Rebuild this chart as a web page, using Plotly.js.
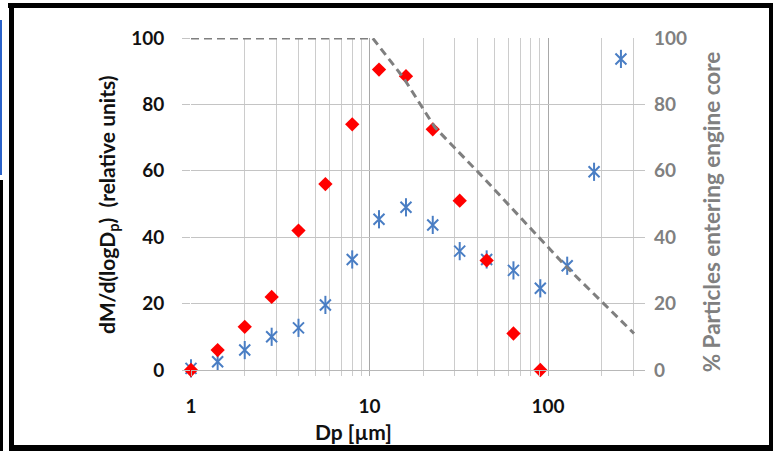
<!DOCTYPE html>
<html>
<head>
<meta charset="utf-8">
<script src="https://cdn.plot.ly/plotly-3.0.1.min.js"></script>
<style>
  html, body { margin:0; padding:0; background:#ffffff; }
  #wrap { position:relative; width:773px; height:451px; overflow:hidden; background:#fff; }
  #chart { position:absolute; left:0; top:0; width:773px; height:451px; }
  .bar { position:absolute; background:#000; }
</style>
</head>
<body>
<div id="wrap">
  <div id="chart"></div>
  <div class="bar" style="left:8px; top:3px; width:765px; height:5px;"></div>
  <div class="bar" style="left:9px; top:3px; width:5px; height:448px;"></div>
  <div class="bar" style="left:9px; top:445px; width:764px; height:6px;"></div>
  <div class="bar" style="left:769px; top:3px; width:4px; height:448px;"></div>
  <div class="bar" style="left:0px; top:180px; width:3px; height:271px;"></div>
  <div class="bar" style="left:0px; top:20px; width:2px; height:155px; background:#2a62c9;"></div>
</div>
<script>
// Particle diameter (µm), half-octave steps
const dpRed  = [1, 1.41, 2, 2.83, 4, 5.66, 8, 11.3, 16, 22.6, 32, 45.3, 64, 90.5];
const massRed = [0, 6, 13, 22, 42, 56, 74, 90.5, 88.5, 72.5, 51, 33, 11, 0];

const dpBlue = [1, 1.41, 2, 2.83, 4, 5.66, 8, 11.3, 16, 22.6, 32, 45.3, 64, 90.5, 128, 181, 256];
const massBlue = [0.5, 2.5, 6, 10, 12.7, 19.6, 33.3, 45.4, 49, 43.7, 35.8, 33.3, 30, 24.6, 31.4, 59.7, 93.7];

const dpCore = [1, 10.4, 15.5, 23.3, 41.6, 127, 303];
const pctCore = [100, 100, 88, 73, 59, 31, 11];

const xTickVals = [1, 10, 100];
const xTickText = ['1', '10', '100'];
const xMinorVals = [2,3,4,5,6,7,8,9,20,30,40,50,60,70,80,90,200,300];
const yTickVals = [0, 20, 40, 60, 80, 100];

const FONT = 'Lato, "Open Sans", sans-serif';
const blue = '#4a7ec4';

const traces = [
  { x: dpCore, y: pctCore, yaxis: 'y2', mode: 'lines', type: 'scatter',
    line: { color: '#7f7f7f', width: 3, dash: '8px,5px' }, hoverinfo: 'skip' },
  { x: dpBlue, y: massBlue, mode: 'markers', type: 'scatter', cliponaxis: false,
    marker: { symbol: 'x-thin-open', size: 11, color: blue, line: { color: blue, width: 2 } } },
  { x: dpBlue, y: massBlue, mode: 'markers', type: 'scatter', cliponaxis: false,
    marker: { symbol: 'line-ns-open', size: 13, color: blue, line: { color: blue, width: 2 } } },
  { x: dpRed, y: massRed, mode: 'markers', type: 'scatter', cliponaxis: false,
    marker: { symbol: 'diamond', size: 11, color: '#ff0000', line: { width: 0 } } }
];

const layout = {
  width: 773, height: 451,
  margin: { l: 191, r: 128, t: 38, b: 81 },
  paper_bgcolor: 'rgba(0,0,0,0)', plot_bgcolor: '#ffffff',
  showlegend: false,
  font: { family: FONT, color: '#000' },
  xaxis: {
    type: 'log', range: [0, 2.543],
    tickvals: xTickVals, ticktext: xTickText,
    showgrid: true, gridcolor: '#a8a8a8', gridwidth: 1,
    ticks: 'outside', ticklen: 5, tickcolor: '#b0b0b0',
    minor: { tickvals: xMinorVals, showgrid: true, gridcolor: '#cccccc', gridwidth: 1,
             ticks: 'outside', ticklen: 5, tickcolor: '#cccccc' },
    showline: true, linecolor: '#b8b8b8', linewidth: 1,
    zeroline: false,
    tickfont: { family: FONT, size: 19, color: '#111', weight: 'bold' },
    ticklabelstandoff: 14
  },
  yaxis: {
    range: [0, 100], tickvals: yTickVals,
    showgrid: true, gridcolor: '#c4c4c4', gridwidth: 1,
    ticks: 'outside', ticklen: 8, tickcolor: '#c4c4c4',
    zeroline: false, showline: false,
    tickfont: { family: FONT, size: 19, color: '#111', weight: 'bold' },
    ticklabelstandoff: 14
  },
  yaxis2: {
    range: [0, 100], tickvals: yTickVals, overlaying: 'y', side: 'right',
    showgrid: false, zeroline: false, showline: false, ticks: '',
    tickfont: { family: FONT, size: 19, color: '#808080', weight: 'bold' },
    ticklabelstandoff: 8
  },
  annotations: [
    { text: '<b>dM/d(logD<sub>p</sub>)  (relative units)</b>', xref: 'paper', yref: 'paper',
      x: -0.1828, y: 0.497, textangle: -90, showarrow: false,
      font: { family: FONT, size: 21, color: '#111' }, xanchor: 'center', yanchor: 'middle' },
    { text: '<b>% Particles entering engine core</b>', xref: 'paper', yref: 'paper',
      x: 1.1454, y: 0.475, textangle: -90, showarrow: false,
      font: { family: FONT, size: 22.5, color: '#808080' }, xanchor: 'center', yanchor: 'middle' },
    { text: '<b>Dp [µm]</b>', xref: 'paper', yref: 'paper',
      x: 0.359, y: -0.1867, showarrow: false,
      font: { family: FONT, size: 21, color: '#111' }, xanchor: 'center', yanchor: 'middle' }
  ]
};

Plotly.newPlot('chart', traces, layout, { staticPlot: true, displayModeBar: false });
</script>
</body>
</html>
